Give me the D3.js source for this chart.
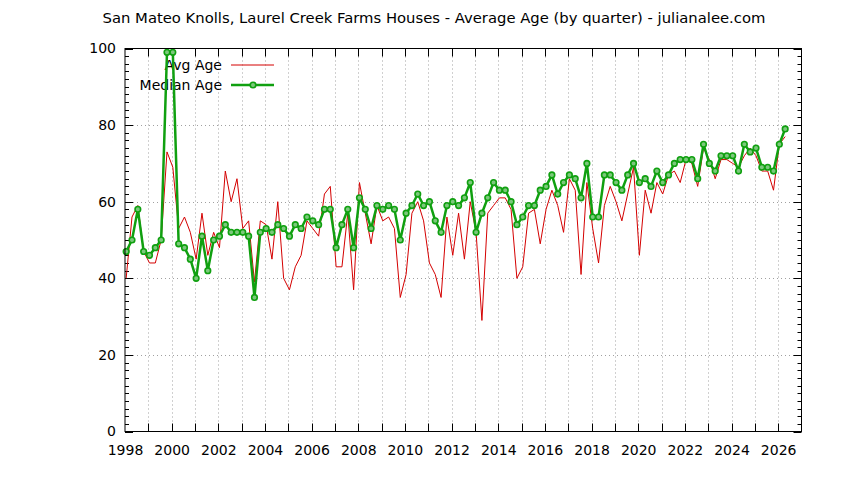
<!DOCTYPE html>
<html>
<head>
<meta charset="utf-8">
<script src="https://cdn.jsdelivr.net/npm/d3@7"></script>
<style>
body { margin: 0; background: #fff; }
text { font-family: "DejaVu Sans", sans-serif; fill: #000; }
</style>
</head>
<body>
<script>
// quarterly values, 1998 Q1 .. 2026 Q2
var avgAge = [40,56,59,47, 44,44,50,73, 69,53,56,52, 45,57,46,52, 48,68,60,66,
  53,55,39,55, 54,45,60,40, 37,43,46,55, 53,51,62,64, 43,43,57,37,
  65,57,49,59, 55,56,53,35, 41,57,60,55, 44,41,35,56, 46,57,45,60,
  52,29,57,59, 61,61,58,40, 43,57,58,49, 58,63,59,52, 66,63,41,65,
  53,44,59,64, 60,55,62,69, 46,63,57,65, 62,67,68,65, 71,70,64,74,
  71,66,71,71, 70,69,72,74, 72,68,68,63, 75,77];
var medianAge = [47,50,58,47, 46,48,50,99, 99,49,48,45, 40,51,42,50, 51,54,52,52,
  52,51,35,52, 53,52,54,53, 51,54,53,56, 55,54,58,58, 48,54,58,48,
  61,58,53,59, 58,59,58,50, 57,59,62,59, 60,55,52,59, 60,59,61,65,
  52,57,61,65, 63,63,60,54, 56,59,59,63, 64,67,62,65, 67,66,61,70,
  56,56,67,67, 65,63,67,70, 65,66,64,68, 65,67,70,71, 71,71,66,75,
  70,68,72,72, 72,68,75,73, 74,69,69,68, 75,79];
var firstYear = 1998;
var yTicks = [0, 20, 40, 60, 80, 100];
var xTickLabels = [1998, 2000, 2002, 2004, 2006, 2008, 2010, 2012, 2014, 2016, 2018, 2020, 2022, 2024, 2026];

var width = 844, height = 480;
var plotLeft = 125, plotRight = 801.5, plotTop = 48.5, plotBottom = 431.5;
var red = "#d40000", green = "#10a010";

var svg = d3.select("body").append("svg")
    .attr("width", width).attr("height", height);

var x = d3.scaleLinear().domain([1998, 2027]).range([plotLeft, plotRight]);
var y = d3.scaleLinear().domain([0, 100]).range([plotBottom, plotTop]);

// position of each quarter on the time axis
var when = avgAge.map(function(d, i) { return firstYear + i / 4 + 0.05; });

// title
svg.append("text")
    .attr("x", 434).attr("y", 23)
    .attr("text-anchor", "middle")
    .attr("font-size", 14.8)
    .text("San Mateo Knolls, Laurel Creek Farms Houses - Average Age (by quarter) - julianalee.com");

// dotted grid
var grid = svg.append("g").attr("stroke", "#a0a0a0").attr("stroke-width", 1)
    .attr("stroke-dasharray", "1,3");
grid.selectAll("line.vx").data(d3.range(1999, 2027)).enter().append("line")
    .attr("x1", function(d) { return Math.round(x(d)) + 0.5; })
    .attr("x2", function(d) { return Math.round(x(d)) + 0.5; })
    .attr("y1", plotTop).attr("y2", plotBottom);
grid.selectAll("line.hy").data([20, 40, 60, 80]).enter().append("line")
    .attr("y1", function(d) { return Math.round(y(d)) + 0.5; })
    .attr("y2", function(d) { return Math.round(y(d)) + 0.5; })
    .attr("x1", plotLeft).attr("x2", plotRight);

// tick marks (mirrored on all sides)
var ticks = svg.append("g").attr("stroke", "#000").attr("stroke-width", 1);
d3.range(0, 101, 2).forEach(function(v) {
    var len = v % 20 === 0 ? 8 : 4;
    var yy = Math.round(y(v)) + 0.5;
    ticks.append("line").attr("x1", plotLeft).attr("x2", plotLeft + len).attr("y1", yy).attr("y2", yy);
    ticks.append("line").attr("x1", plotRight - len).attr("x2", plotRight).attr("y1", yy).attr("y2", yy);
});
d3.range(1999, 2027).forEach(function(v) {
    var xx = Math.round(x(v)) + 0.5;
    ticks.append("line").attr("x1", xx).attr("x2", xx).attr("y1", plotBottom).attr("y2", plotBottom - 8);
    ticks.append("line").attr("x1", xx).attr("x2", xx).attr("y1", plotTop).attr("y2", plotTop + 8);
});

// axis labels through d3 axes
var yAxis = svg.append("g").attr("transform", "translate(" + plotLeft + ",0)")
    .call(d3.axisLeft(y).tickValues(yTicks).tickSize(0).tickPadding(9));
yAxis.select(".domain").remove();
yAxis.selectAll("text").attr("font-size", 14).attr("font-family", "DejaVu Sans").attr("fill", "#000");

var xAxis = svg.append("g").attr("transform", "translate(0," + plotBottom + ")")
    .call(d3.axisBottom(x).tickValues(xTickLabels).tickFormat(d3.format("d")).tickSize(0).tickPadding(14));
xAxis.select(".domain").remove();
xAxis.selectAll("text").attr("font-size", 14).attr("font-family", "DejaVu Sans").attr("fill", "#000");

// legend (under the data, like the original)
svg.append("text").attr("x", 222).attr("y", 70).attr("text-anchor", "end")
    .attr("font-size", 14).text("Avg Age");
svg.append("text").attr("x", 222).attr("y", 90).attr("text-anchor", "end")
    .attr("font-size", 14).text("Median Age");
svg.append("line").attr("x1", 231).attr("x2", 274).attr("y1", 65).attr("y2", 65)
    .attr("stroke", red).attr("stroke-width", 1);
svg.append("line").attr("x1", 231).attr("x2", 274).attr("y1", 85).attr("y2", 85)
    .attr("stroke", green).attr("stroke-width", 2.5);
svg.append("circle").attr("cx", 253).attr("cy", 85).attr("r", 2.8)
    .attr("fill", "#7cc87c").attr("stroke", green).attr("stroke-width", 1.6);

// avg line
var quarterLine = d3.line()
    .x(function(d, i) { return x(when[i]); })
    .y(function(d) { return y(d); });
svg.append("path").datum(avgAge)
    .attr("d", quarterLine)
    .attr("fill", "none").attr("stroke", red).attr("stroke-width", 1)
    .attr("stroke-linejoin", "miter");

// median line with points
svg.append("path").datum(medianAge)
    .attr("d", quarterLine)
    .attr("fill", "none").attr("stroke", green).attr("stroke-width", 2.5)
    .attr("stroke-linejoin", "round");
svg.selectAll("circle.med").data(medianAge).enter().append("circle")
    .attr("class", "med")
    .attr("cx", function(d, i) { return x(when[i]); })
    .attr("cy", function(d) { return y(d); })
    .attr("r", 2.8)
    .attr("fill", "#7cc87c").attr("stroke", green).attr("stroke-width", 1.6);

// frame
svg.append("rect").attr("x", plotLeft).attr("y", plotTop)
    .attr("width", plotRight - plotLeft).attr("height", plotBottom - plotTop)
    .attr("fill", "none").attr("stroke", "#000").attr("stroke-width", 1);
</script>
</body>
</html>
